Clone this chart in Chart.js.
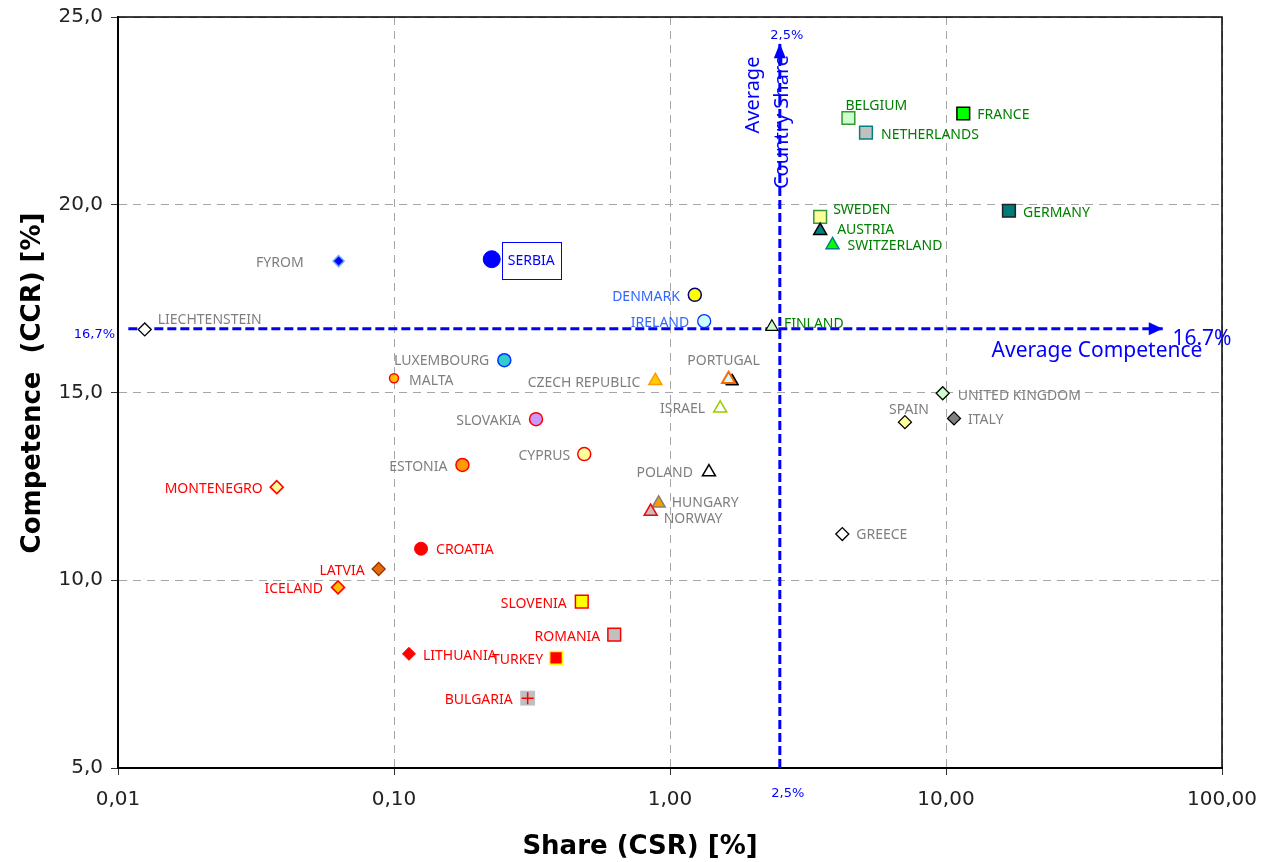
<!DOCTYPE html>
<html>
<head>
<meta charset="utf-8">
<script src="https://cdn.jsdelivr.net/npm/chart.js@4/dist/chart.umd.min.js"></script>
<style>
  html, body { margin: 0; padding: 0; background: #fff; }
  #wrap { width: 1262px; height: 862px; }
</style>
</head>
<body>
<div id="wrap"><canvas id="chart" width="1262" height="862"></canvas></div>
<script>
// country share (CSR, %) vs competence (CCR, %)
const countries = [
  'FYROM', 'LIECHTENSTEIN', 'SERBIA', 'DENMARK', 'IRELAND', 'FINLAND', 'PORTUGAL',
  'LUXEMBOURG', 'MALTA', 'CZECH REPUBLIC', 'ISRAEL', 'UNITED KINGDOM', 'SPAIN', 'ITALY',
  'SLOVAKIA', 'CYPRUS', 'ESTONIA', 'POLAND', 'HUNGARY', 'NORWAY', 'MONTENEGRO',
  'CROATIA', 'LATVIA', 'ICELAND', 'SLOVENIA', 'ROMANIA', 'LITHUANIA', 'TURKEY',
  'BULGARIA', 'BELGIUM', 'FRANCE', 'NETHERLANDS', 'SWEDEN', 'AUSTRIA', 'SWITZERLAND',
  'GERMANY', 'GREECE'
];
const share = [
  0.063, 0.0125, 0.226, 1.23, 1.33, 2.34, 1.63,
  0.251, 0.100, 0.885, 1.52, 9.73, 7.10, 10.69,
  0.327, 0.489, 0.177, 1.384, 0.910, 0.851, 0.0376,
  0.1253, 0.0880, 0.0627, 0.479, 0.628, 0.1133, 0.3865,
  0.305, 4.43, 11.55, 5.13, 3.50, 3.50, 3.88,
  16.91, 4.21
];
const competence = [
  18.5, 16.68, 18.55, 17.6, 16.9, 16.75, 15.35,
  15.86, 15.38, 15.31, 14.58, 14.98, 14.21, 14.31,
  14.29, 13.36, 13.07, 12.88, 12.05, 11.83, 12.48,
  10.84, 10.30, 9.81, 9.43, 8.55, 8.04, 7.93,
  6.86, 22.31, 22.43, 21.92, 19.68, 19.31, 18.93,
  19.84, 11.23
];
// second (dark) triangle sitting under Portugal
const shadowShare = [1.68];
const shadowCompetence = [15.30];

const xTicks = [0.01, 0.1, 1, 10, 100];
const xTickLabels = ['0,01', '0,10', '1,00', '10,00', '100,00'];
const yTicks = [5, 10, 15, 20, 25];
const yTickLabels = ['5,0', '10,0', '15,0', '20,0', '25,0'];

const avgShare = 2.5;
const avgCompetence = 16.7;
const avgShareSpan = [5, 24.3];      // competence range of the vertical arrow
const avgCompSpan = [0.0109, 61];    // share range of the horizontal arrow

// [pointStyle, radius, fill, border, borderWidth, label colour]
const GREY = '#7f7f7f', RED = '#ff0000', GREEN = '#008000', LBLUE = '#3366ff';
const markers = {
  'FYROM':          ['rectRot', 5.5, '#0000ff', '#66aaff', 1.5, GREY],
  'LIECHTENSTEIN':  ['rectRot', 6.5, '#ffffff', '#000000', 1.3, GREY],
  'SERBIA':         ['circle', 8.5, '#0000ff', '#0000ff', 1, '#0000ff'],
  'DENMARK':        ['circle', 6.5, '#ffff00', '#000080', 1.5, LBLUE],
  'IRELAND':        ['circle', 6.5, '#ccffff', '#0033ff', 1.3, LBLUE],
  'FINLAND':        ['triangle', 7, '#ccffcc', '#000000', 1.2, GREEN],
  'PORTUGAL':       ['triangle', 7.5, '#ccffff', '#ff6600', 2, GREY],
  'LUXEMBOURG':     ['circle', 6.5, '#33cccc', '#0033ff', 1.5, GREY],
  'MALTA':          ['circle', 4.5, '#ffc000', '#ff0000', 1.5, GREY],
  'CZECH REPUBLIC': ['triangle', 7.5, '#ffcc00', '#ff9900', 1.5, GREY],
  'ISRAEL':         ['triangle', 7.5, '#ffffff', '#99cc00', 1.5, GREY],
  'UNITED KINGDOM': ['rectRot', 6.5, '#ccffcc', '#000000', 1.3, GREY],
  'SPAIN':          ['rectRot', 6.5, '#ffff99', '#000000', 1.3, GREY],
  'ITALY':          ['rectRot', 6.5, '#808080', '#000000', 1.3, GREY],
  'SLOVAKIA':       ['circle', 6.5, '#cc99ff', '#ff0000', 1.5, GREY],
  'CYPRUS':         ['circle', 6.5, '#ffff99', '#ff0000', 1.5, GREY],
  'ESTONIA':        ['circle', 6.5, '#ff9900', '#ff0000', 1.5, GREY],
  'POLAND':         ['triangle', 7.5, '#ffffff', '#000000', 1.5, GREY],
  'HUNGARY':        ['triangle', 7.5, '#ff9900', '#808080', 1.5, GREY],
  'NORWAY':         ['triangle', 7.5, '#c0c0c0', '#ff0000', 1.5, GREY],
  'MONTENEGRO':     ['rectRot', 6.5, '#ffff99', '#ff0000', 1.5, RED],
  'CROATIA':        ['circle', 6.5, '#ff0000', '#ff0000', 1, RED],
  'LATVIA':         ['rectRot', 6.5, '#e46c0a', '#993300', 1.3, RED],
  'ICELAND':        ['rectRot', 6.5, '#ffc000', '#ff0000', 1.5, RED],
  'SLOVENIA':       ['rect', 9, '#ffff00', '#ff0000', 1.5, RED],
  'ROMANIA':        ['rect', 9, '#c0c0c0', '#ff0000', 1.5, RED],
  'LITHUANIA':      ['rectRot', 6.5, '#ff0000', '#ff0000', 1, RED],
  'TURKEY':         ['rect', 9, '#ff0000', '#ffff00', 1.5, RED],
  'BULGARIA':       ['rect', 10.5, '#c0c0c0', '#c0c0c0', 0, RED],
  'BELGIUM':        ['rect', 9, '#ccffcc', '#339933', 1.5, GREEN],
  'FRANCE':         ['rect', 9, '#00ff00', '#000000', 1.5, GREEN],
  'NETHERLANDS':    ['rect', 9, '#c0c0c0', '#008080', 1.5, GREEN],
  'SWEDEN':         ['rect', 9, '#ffff99', '#339933', 1.5, GREEN],
  'AUSTRIA':        ['triangle', 7.5, '#008080', '#000000', 1.5, GREEN],
  'SWITZERLAND':    ['triangle', 7.5, '#00ff00', '#008080', 1.5, GREEN],
  'GERMANY':        ['rect', 9, '#007a7a', '#222222', 1.5, GREEN],
  'GREECE':         ['rectRot', 6.5, '#ffffff', '#000000', 1.3, GREY]
};

// label placement: [align, dx, dy] from the marker centre
const labelPos = {
  'FYROM': ['right', -35, 2], 'LIECHTENSTEIN': ['left', 13, -9], 'SERBIA': ['left', 16, 2],
  'DENMARK': ['right', -15, 2], 'IRELAND': ['right', -15, 2], 'FINLAND': ['left', 12, -3],
  'PORTUGAL': ['center', -5, -18], 'LUXEMBOURG': ['right', -15, 1], 'MALTA': ['left', 15, 3],
  'CZECH REPUBLIC': ['right', -15, 2], 'ISRAEL': ['right', -15, 1], 'UNITED KINGDOM': ['left', 15, 3],
  'SPAIN': ['center', 4, -12], 'ITALY': ['left', 14, 2], 'SLOVAKIA': ['right', -15, 2],
  'CYPRUS': ['right', -14, 2], 'ESTONIA': ['right', -15, 2], 'POLAND': ['right', -16, 1],
  'HUNGARY': ['left', 13, 0], 'NORWAY': ['left', 13, 7], 'MONTENEGRO': ['right', -14, 2],
  'CROATIA': ['left', 15, 1], 'LATVIA': ['right', -14, 2], 'ICELAND': ['right', -15, 2],
  'SLOVENIA': ['right', -15, 2], 'ROMANIA': ['right', -14, 2], 'LITHUANIA': ['left', 14, 2],
  'TURKEY': ['right', -13, 2], 'BULGARIA': ['right', -15, 2], 'BELGIUM': ['left', -3, -12],
  'FRANCE': ['left', 14, 2], 'NETHERLANDS': ['left', 15, 2], 'SWEDEN': ['left', 13, -7],
  'AUSTRIA': ['left', 17, -1], 'SWITZERLAND': ['left', 15, 1], 'GERMANY': ['left', 14, 2],
  'GREECE': ['left', 14, 1]
};

const LABEL_FONT = '14px "Noto Sans"';
const BLUE = '#0000ff';

const points = countries.map((c, i) => ({ x: share[i], y: competence[i] }));
const bulgariaIdx = countries.indexOf('BULGARIA');

function arrowHead(ctx, x, y, dir, len, half) {
  ctx.beginPath();
  if (dir === 'up') {
    ctx.moveTo(x, y);
    ctx.lineTo(x - half, y + len);
    ctx.lineTo(x + half, y + len);
  } else {
    ctx.moveTo(x, y);
    ctx.lineTo(x - len, y - half);
    ctx.lineTo(x - len, y + half);
  }
  ctx.closePath();
  ctx.fill();
}

const overlay = {
  id: 'overlay',
  beforeDatasetsDraw(chart) {
    const { ctx, chartArea: a } = chart;
    ctx.save();
    ctx.strokeStyle = '#000';
    ctx.lineWidth = 1.5;
    ctx.beginPath();
    ctx.moveTo(a.left, a.top);
    ctx.lineTo(a.right, a.top);
    ctx.lineTo(a.right, a.bottom);
    ctx.stroke();
    ctx.restore();
  },
  afterDatasetsDraw(chart) {
    const { ctx, scales: { x, y } } = chart;
    const meta = chart.getDatasetMeta(2);
    ctx.save();

    // country names
    ctx.font = LABEL_FONT;
    ctx.textBaseline = 'middle';
    meta.data.forEach((el, i) => {
      const c = countries[i];
      const [align, dx, dy] = labelPos[c];
      ctx.fillStyle = markers[c][5];
      ctx.textAlign = align;
      const tx = el.x + dx, ty = el.y + dy;
      ctx.fillText(c, tx, ty);
      if (c === 'SERBIA') {
        const w = ctx.measureText(c).width;
        ctx.strokeStyle = BLUE;
        ctx.lineWidth = 1;
        ctx.strokeRect(Math.round(tx - 6) + 0.5, Math.round(ty - 19) + 0.5, Math.round(w + 12), 37);
      }
    });

    // arrow heads and captions of the two average lines
    ctx.fillStyle = BLUE;
    const vx = x.getPixelForValue(avgShare);
    const vTop = y.getPixelForValue(avgShareSpan[1]);
    arrowHead(ctx, vx, vTop, 'up', 15, 6);
    const hy = y.getPixelForValue(avgCompetence);
    const hEnd = x.getPixelForValue(avgCompSpan[1]);
    arrowHead(ctx, hEnd, hy, 'right', 14, 6.5);

    ctx.font = '13px "DejaVu Sans"';
    ctx.textAlign = 'center';
    ctx.textBaseline = 'middle';
    ctx.fillText('2,5%', vx + 7, 36);
    ctx.fillText('2,5%', vx + 8, 794);
    ctx.textAlign = 'right';
    ctx.fillText('16,7%', 115, hy + 6);

    ctx.font = '21px "Noto Sans"';
    ctx.textAlign = 'center';
    ctx.fillText('Average Competence', 1097, hy + 22);
    ctx.fillText('16.7%', 1202, hy + 10);

    ctx.font = '20px "Noto Sans"';
    ctx.save();
    ctx.translate(vx - 27, 95);
    ctx.rotate(-Math.PI / 2);
    ctx.fillText('Average', 0, 0);
    ctx.restore();
    ctx.save();
    ctx.translate(vx + 2, 122);
    ctx.rotate(-Math.PI / 2);
    ctx.fillText('Country Share', 0, 0);
    ctx.restore();

    // axis titles
    ctx.fillStyle = '#000';
    ctx.font = 'bold 26px "DejaVu Sans"';
    ctx.fillText('Share (CSR) [%]', 640, 847);
    ctx.save();
    ctx.translate(33, 383);
    ctx.rotate(-Math.PI / 2);
    ctx.fillText('Competence  (CCR) [%]', 0, 0);
    ctx.restore();

    ctx.restore();
  }
};

const m = c => markers[c];

new Chart(document.getElementById('chart'), {
  type: 'scatter',
  data: {
    datasets: [
      {
        // vertical average-share line
        data: [{ x: avgShare, y: avgShareSpan[0] }, { x: avgShare, y: avgShareSpan[1] }],
        showLine: true, borderColor: BLUE, borderWidth: 3, borderDash: [9, 4],
        pointRadius: 0, order: 3
      },
      {
        // horizontal average-competence line
        data: [{ x: avgCompSpan[0], y: avgCompetence }, { x: avgCompSpan[1], y: avgCompetence }],
        showLine: true, borderColor: BLUE, borderWidth: 3, borderDash: [9, 4],
        pointRadius: 0, order: 3
      },
      {
        data: points,
        pointStyle: countries.map(c => m(c)[0]),
        pointRadius: countries.map(c => m(c)[1]),
        backgroundColor: countries.map(c => m(c)[2]),
        borderColor: countries.map(c => m(c)[3]),
        borderWidth: countries.map(c => m(c)[4]),
        order: 1
      },
      {
        data: shadowShare.map((v, i) => ({ x: v, y: shadowCompetence[i] })),
        pointStyle: 'triangle', pointRadius: 7.5,
        backgroundColor: '#000', borderColor: '#000', borderWidth: 1, order: 2
      },
      {
        // red cross on the Bulgaria marker
        data: [points[bulgariaIdx]],
        pointStyle: 'cross', pointRadius: 6, borderColor: '#ff0000', borderWidth: 1.5, order: 0
      }
    ]
  },
  options: {
    responsive: false,
    animation: false,
    devicePixelRatio: 1,
    layout: { padding: { top: 17, right: 40, left: 0, bottom: 0 } },
    plugins: { legend: { display: false }, tooltip: { enabled: false } },
    scales: {
      x: {
        type: 'logarithmic',
        min: xTicks[0], max: xTicks[xTicks.length - 1],
        afterBuildTicks: s => { s.ticks = xTicks.map(v => ({ value: v })); },
        afterFit: s => { s.height = 94; s.paddingLeft = 0; s.paddingRight = 0; },
        ticks: {
          autoSkip: false, maxRotation: 0, padding: 13,
          color: '#222', font: { family: '"DejaVu Sans"', size: 20 },
          callback: v => xTickLabels[xTicks.indexOf(v)]
        },
        grid: { color: '#a6a6a6', lineWidth: 1, tickLength: 7, tickColor: '#333' },
        border: { color: '#000', width: 2, dash: [8, 6] }
      },
      y: {
        min: yTicks[0], max: yTicks[yTicks.length - 1],
        afterBuildTicks: s => { s.ticks = yTicks.map(v => ({ value: v })); },
        afterFit: s => { s.width = 118; s.paddingTop = 0; s.paddingBottom = 0; },
        ticks: {
          padding: 8, color: '#222', font: { family: '"DejaVu Sans"', size: 20 },
          callback: v => yTickLabels[yTicks.indexOf(v)]
        },
        grid: { color: '#a6a6a6', lineWidth: 1, tickLength: 7, tickColor: '#333' },
        border: { color: '#000', width: 2, dash: [8, 6] }
      }
    }
  },
  plugins: [overlay]
});
</script>
</body>
</html>
